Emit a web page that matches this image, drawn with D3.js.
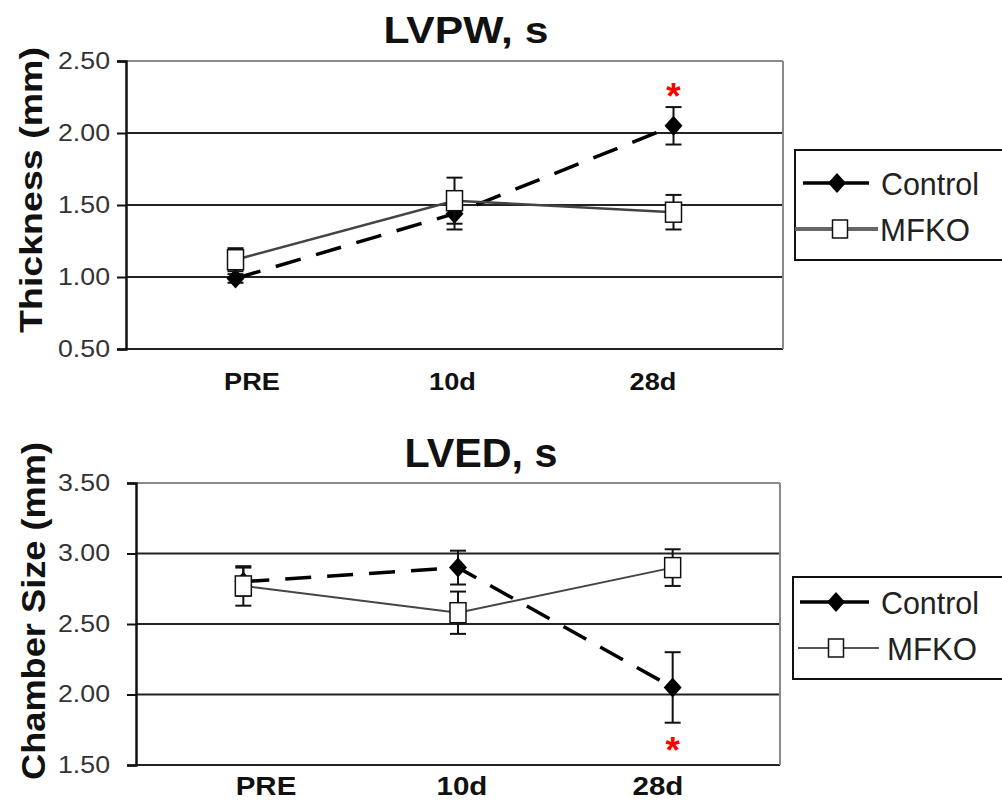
<!DOCTYPE html>
<html><head><meta charset="utf-8">
<script src="https://cdn.jsdelivr.net/npm/d3@7/dist/d3.min.js"></script>
<style>body{margin:0;background:#fff}svg{display:block}text{font-family:Arial,"Liberation Sans",sans-serif}</style>
</head><body>
<script>
const categories = ["PRE", "10d", "28d"];
const seriesNames = ["Control", "MFKO"];

const lvpwControl = [0.99, 1.44, 2.05];
const lvpwControlErr = [0.03, 0.11, 0.13];
const lvpwMfko = [1.12, 1.53, 1.45];
const lvpwMfkoErr = [0.08, 0.16, 0.12];
const lvpwStar = [null, null, 2.31];
const lvpwTicks = [0.5, 1.0, 1.5, 2.0, 2.5];

const lvedControl = [2.80, 2.90, 2.05];
const lvedControlErr = [0.10, 0.12, 0.25];
const lvedMfko = [2.77, 2.58, 2.90];
const lvedMfkoErr = [0.14, 0.15, 0.13];
const lvedStar = [null, null, 1.66];
const lvedTicks = [1.5, 2.0, 2.5, 3.0, 3.5];

const W = 1002, H = 804;
const svg = d3.select("body").append("svg").attr("width", W).attr("height", H);
svg.append("rect").attr("width", W).attr("height", H).attr("fill", "#fff");

function stretch(sel, f) {
  sel.each(function () {
    const w = this.getComputedTextLength();
    d3.select(this).attr("textLength", w * f).attr("lengthAdjust", "spacingAndGlyphs");
  });
}

function panel(o) {
  const g = svg.append("g");
  const x = d3.scaleBand().domain(categories).range([o.x0, o.x1]);
  const y = d3.scaleLinear().domain([o.ticks[0], o.ticks[o.ticks.length - 1]]).range([o.y1, o.y0]);
  const cx = d => x(d) + x.bandwidth() / 2;

  // gridlines
  g.selectAll(".grid").data(o.ticks).join("line")
    .attr("x1", o.x0).attr("x2", o.x1)
    .attr("y1", d => y(d)).attr("y2", d => y(d))
    .attr("stroke", (d, i) => i === o.ticks.length - 1 ? "#8a8a8a" : "#222")
    .attr("stroke-width", 2);
  // right border
  g.append("line").attr("x1", o.x1).attr("x2", o.x1).attr("y1", y.range()[1]).attr("y2", y.range()[0])
    .attr("stroke", "#8a8a8a").attr("stroke-width", 2);

  // y axis
  const ax = g.append("g").attr("transform", `translate(${o.x0},0)`)
    .call(d3.axisLeft(y).tickValues(o.ticks).tickSize(9).tickPadding(o.pad).tickFormat(d3.format(".2f")));
  ax.select(".domain").attr("stroke", "#111").attr("stroke-width", 2.5);
  ax.selectAll(".tick line").attr("stroke", "#111").attr("stroke-width", 2);
  ax.selectAll(".tick text").attr("font-size", 23).attr("fill", "#333")
    .attr("font-family", "Arial, 'Liberation Sans', sans-serif")
    .attr("textLength", 52).attr("lengthAdjust", "spacingAndGlyphs");

  // x labels
  const lx = d3.scalePoint().domain(categories).range(o.labelRange);
  g.selectAll(".xl").data(categories).join("text")
    .attr("x", d => lx(d)).attr("y", o.labelY).attr("text-anchor", "middle")
    .attr("font-size", o.labelSize).attr("font-weight", "bold").attr("fill", "#111")
    .text(d => d).call(stretch, 1.18);

  // title
  g.append("text").attr("x", o.titleX).attr("y", o.titleY).attr("text-anchor", "middle")
    .attr("font-size", o.titleSize).attr("font-weight", "bold").attr("fill", "#111")
    .text(o.title).attr("textLength", o.titleLen).attr("lengthAdjust", "spacingAndGlyphs");

  // y title
  g.append("text").attr("transform", `translate(${o.ytX},${o.ytY}) rotate(-90)`)
    .attr("text-anchor", "middle").attr("font-size", o.ytSize).attr("font-weight", "bold").attr("fill", "#111")
    .text(o.yTitle).attr("textLength", o.ytLen).attr("lengthAdjust", "spacingAndGlyphs");

  const ctrl = categories.map((c, i) => ({ c, v: o.control[i], e: o.controlErr[i] }));
  const mfko = categories.map((c, i) => ({ c, v: o.mfko[i], e: o.mfkoErr[i] }));
  const line = d3.line().x(d => cx(d.c)).y(d => y(d.v));

  function errBars(data) {
    const eg = g.append("g");
    eg.selectAll("line.v").data(data).join("line")
      .attr("x1", d => cx(d.c)).attr("x2", d => cx(d.c))
      .attr("y1", d => y(d.v - d.e)).attr("y2", d => y(d.v + d.e))
      .attr("stroke", "#111").attr("stroke-width", 2);
    [1, -1].forEach(s => {
      eg.append("g").selectAll("line").data(data).join("line")
        .attr("x1", d => cx(d.c) - 8).attr("x2", d => cx(d.c) + 8)
        .attr("y1", d => y(d.v + s * d.e)).attr("y2", d => y(d.v + s * d.e))
        .attr("stroke", "#111").attr("stroke-width", 2);
    });
  }

  // Control
  g.append("path").datum(ctrl).attr("d", line).attr("fill", "none")
    .attr("stroke", "#000").attr("stroke-width", 3.5).attr("stroke-dasharray", "26,16");
  errBars(ctrl);
  g.selectAll(".dia").data(ctrl).join("path")
    .attr("transform", d => `translate(${cx(d.c)},${y(d.v)})`)
    .attr("d", "M0,-10L9,0L0,10L-9,0Z").attr("fill", "#000");

  // MFKO
  g.append("path").datum(mfko).attr("d", line).attr("fill", "none")
    .attr("stroke", "#444").attr("stroke-width", o.mfkoW);
  errBars(mfko);
  g.selectAll(".sq").data(mfko).join("rect")
    .attr("x", d => cx(d.c) - 8).attr("y", d => y(d.v) - 10)
    .attr("width", 16).attr("height", 20)
    .attr("fill", "#fff").attr("stroke", "#111").attr("stroke-width", 1.5);

  // stars
  g.selectAll(".star").data(categories.map((c, i) => ({ c, v: o.star[i] })).filter(d => d.v != null)).join("text")
    .attr("x", d => cx(d.c)).attr("y", d => y(d.v) + 21).attr("text-anchor", "middle")
    .attr("font-size", 37).attr("font-weight", "bold").attr("fill", "#ff0000").text("*");

  // legend
  const L = o.legend;
  g.append("rect").attr("x", L.x).attr("y", L.y).attr("width", W - L.x + 10).attr("height", L.h)
    .attr("fill", "#fff").attr("stroke", "#111").attr("stroke-width", 2);
  g.append("line").attr("x1", L.l1[0]).attr("x2", L.l1[1]).attr("y1", L.r1).attr("y2", L.r1)
    .attr("stroke", "#000").attr("stroke-width", 3.5);
  g.append("path").attr("transform", `translate(${L.m1},${L.r1})`).attr("d", "M0,-10L9,0L0,10L-9,0Z").attr("fill", "#000");
  g.append("line").attr("x1", L.l2[0]).attr("x2", L.l2[1]).attr("y1", L.r2).attr("y2", L.r2)
    .attr("stroke", L.c2).attr("stroke-width", L.w2);
  g.append("rect").attr("x", L.m2 - 7.5).attr("y", L.r2 - 9).attr("width", 15).attr("height", 18)
    .attr("fill", "#fff").attr("stroke", "#111").attr("stroke-width", 1.5);
  g.append("text").attr("x", L.t1).attr("y", L.r1 + 12).attr("font-size", 32).attr("fill", "#222")
    .text(seriesNames[0]).attr("textLength", 98).attr("lengthAdjust", "spacingAndGlyphs");
  g.append("text").attr("x", L.t2).attr("y", L.r2 + 12).attr("font-size", 32).attr("fill", "#222")
    .text(seriesNames[1]).attr("textLength", 90).attr("lengthAdjust", "spacingAndGlyphs");
}

panel({
  x0: 126, x1: 783, y0: 61, y1: 349, ticks: lvpwTicks, pad: 7,
  control: lvpwControl, controlErr: lvpwControlErr, mfko: lvpwMfko, mfkoErr: lvpwMfkoErr, star: lvpwStar,
  labelRange: [252, 653], labelY: 390, labelSize: 23,
  title: "LVPW, s", titleX: 466, titleY: 43, titleSize: 36, titleLen: 165,
  yTitle: "Thickness (mm)", ytX: 42, ytY: 190, ytSize: 32, ytLen: 286,
  mfkoW: 2.5,
  legend: { x: 795, y: 150, h: 110, r1: 183, r2: 229, l1: [803, 869], m1: 837, l2: [795, 878], m2: 840, c2: "#666", w2: 4, t1: 881, t2: 880 }
});

panel({
  x0: 136, x1: 780, y0: 483, y1: 765, ticks: lvedTicks, pad: 17,
  control: lvedControl, controlErr: lvedControlErr, mfko: lvedMfko, mfkoErr: lvedMfkoErr, star: lvedStar,
  labelRange: [266, 658], labelY: 795, labelSize: 25,
  title: "LVED, s", titleX: 481, titleY: 467, titleSize: 40, titleLen: 153,
  yTitle: "Chamber Size (mm)", ytX: 45, ytY: 611, ytSize: 34, ytLen: 338,
  mfkoW: 1.8,
  legend: { x: 793, y: 577, h: 102, r1: 602, r2: 648, l1: [800, 869], m1: 836, l2: [798, 879], m2: 836, c2: "#555", w2: 2, t1: 881, t2: 887 }
});
</script>
</body></html>
